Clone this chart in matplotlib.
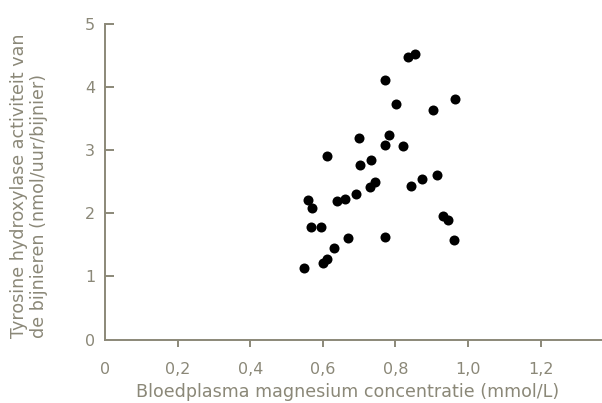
import matplotlib
matplotlib.use("Agg")
import matplotlib.pyplot as plt

# Plasma magnesium (mmol/L) vs adrenal tyrosine hydroxylase activity
magnesium = [0.854, 0.834, 0.772, 0.802, 0.964, 0.904, 0.701, 0.782, 0.772, 0.822,
             0.611, 0.733, 0.702, 0.915, 0.873, 0.843, 0.743, 0.730, 0.559, 0.571,
             0.640, 0.661, 0.691, 0.568, 0.595, 0.932, 0.944, 0.669, 0.772, 0.962,
             0.631, 0.612, 0.600, 0.548]
activity = [4.52, 4.47, 4.12, 3.73, 3.81, 3.64, 3.20, 3.24, 3.09, 3.07,
            2.91, 2.85, 2.77, 2.61, 2.54, 2.43, 2.50, 2.42, 2.21, 2.08,
            2.20, 2.22, 2.30, 1.78, 1.79, 1.95, 1.89, 1.61, 1.62, 1.57,
            1.45, 1.28, 1.21, 1.13]

x_ticks = [0, 0.2, 0.4, 0.6, 0.8, 1.0, 1.2]
x_labels = ["0", "0,2", "0,4", "0,6", "0,8", "1,0", "1,2"]
y_ticks = [0, 1, 2, 3, 4, 5]
y_labels = ["0", "1", "2", "3", "4", "5"]
x_title = "Bloedplasma magnesium concentratie (mmol/L)"
y_title = "Tyrosine hydroxylase activiteit van\nde bijnieren (nmol/uur/bijnier)"

axis_color = "#8b8878"
plt.rcParams["font.family"] = ["DejaVu Sans"]
fs_tick = 11.5
fs_title = 12.6

W, H = 602, 403
fig = plt.figure(figsize=(W / 100, H / 100), dpi=100)
x0, x1, y_bot, y_top = 105, 602, 339.5, 24
ax = fig.add_axes([x0 / W, (H - y_bot) / H, (x1 - x0) / W, (y_bot - y_top) / H])

ax.scatter(magnesium, activity, s=52, color="black", linewidths=0, zorder=3,
           clip_on=False)

ax.set_xlim(0, (x1 - x0) / 363)
ax.set_ylim(0, 5)

for side in ("top", "right"):
    ax.spines[side].set_visible(False)
for side in ("left", "bottom"):
    ax.spines[side].set_color(axis_color)
    ax.spines[side].set_linewidth(1.4)

ax.set_xticks(x_ticks)
ax.set_xticklabels(x_labels)
ax.set_yticks(y_ticks)
ax.set_yticklabels(y_labels)
ax.tick_params(axis="x", direction="out", length=5, width=1.4, color=axis_color,
               labelcolor=axis_color, labelsize=fs_tick, pad=11)
ax.tick_params(axis="y", direction="in", length=6.5, width=1.4, color=axis_color,
               labelcolor=axis_color, labelsize=fs_tick, pad=7)
# no tick marks at the origin, only the labels
ax.xaxis.get_major_ticks()[0].tick1line.set_visible(False)
ax.yaxis.get_major_ticks()[0].tick1line.set_visible(False)

fig.text(348 / W, (H - 392) / H, x_title,
         ha="center", va="center", color=axis_color, fontsize=fs_title)
fig.text(29 / W, (H - 338) / H, y_title,
         rotation=90, ha="center", va="bottom", multialignment="left",
         color=axis_color, fontsize=fs_title, linespacing=1.1)

fig.savefig("out.png", dpi=100)
